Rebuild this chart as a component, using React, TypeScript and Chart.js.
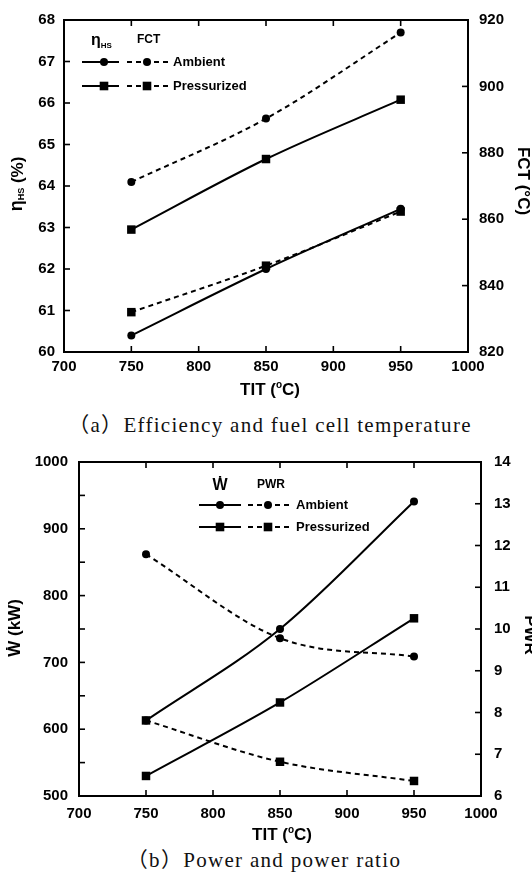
import React, { useEffect, useRef } from "react";
import { Chart, registerables } from "chart.js";
Chart.register(...registerables);

// ---------- data ----------
const TIT = [750, 850, 950];
const etaAmbient = [60.4, 62.0, 63.45];
const etaPressurized = [62.95, 64.65, 66.08];
const fctAmbient = [871.2, 890.3, 916.2];
const fctPressurized = [832.0, 846.0, 862.3];

const powerAmbient = [613, 750, 941];
const powerPressurized = [530, 640, 766];
const pwrAmbient = [11.79, 9.78, 9.34];
const pwrPressurized = [7.81, 6.82, 6.36];

const xTickValues = [700, 750, 800, 850, 900, 950, 1000];
const etaTickValues = [60, 61, 62, 63, 64, 65, 66, 67, 68];
const fctTickValues = [820, 840, 860, 880, 900, 920];
const powerTickValues = [500, 550, 600, 650, 700, 750, 800, 850, 900, 950, 1000];
const powerLabelValues = [500, 600, 700, 800, 900, 1000];
const pwrTickValues = [6, 7, 8, 9, 10, 11, 12, 13, 14];

const legendLabels = ["Ambient", "Pressurized"];

const FONT = '"Liberation Sans", Arial, Helvetica, "DejaVu Sans", sans-serif';

type Part = { t: string; size: number; dy?: number };

function drawRich(ctx: CanvasRenderingContext2D, parts: Part[], cx: number, cy: number, rot: number, align: "center" | "left" = "center") {
  ctx.save();
  ctx.translate(cx, cy);
  ctx.rotate(rot);
  let total = 0;
  const widths = parts.map((p) => {
    ctx.font = `bold ${p.size}px ${FONT}`;
    const w = ctx.measureText(p.t).width;
    total += w;
    return w;
  });
  let x = align === "center" ? -total / 2 : 0;
  ctx.textBaseline = "middle";
  ctx.textAlign = "left";
  ctx.fillStyle = "#000";
  parts.forEach((p, i) => {
    ctx.font = `bold ${p.size}px ${FONT}`;
    ctx.fillText(p.t, x, p.dy || 0);
    x += widths[i];
  });
  ctx.restore();
}

function marker(ctx: CanvasRenderingContext2D, x: number, y: number, shape: string) {
  ctx.fillStyle = "#000";
  ctx.beginPath();
  if (shape === "circle") {
    ctx.arc(x, y, 4, 0, Math.PI * 2);
  } else {
    ctx.rect(x - 4.3, y - 4.3, 8.6, 8.6);
  }
  ctx.fill();
}

function sample(ctx: CanvasRenderingContext2D, x1: number, x2: number, y: number, mx: number, dashed: boolean, shape: string) {
  ctx.save();
  ctx.strokeStyle = "#000";
  ctx.lineWidth = 2;
  ctx.setLineDash(dashed ? [5, 4] : []);
  ctx.beginPath();
  ctx.moveTo(x1, y);
  ctx.lineTo(x2, y);
  ctx.stroke();
  ctx.setLineDash([]);
  marker(ctx, mx, y, shape);
  ctx.restore();
}

function line(ctx: CanvasRenderingContext2D, x1: number, y1: number, x2: number, y2: number) {
  ctx.beginPath();
  ctx.moveTo(x1, y1);
  ctx.lineTo(x2, y2);
  ctx.stroke();
}

function frame(chart: any, leftTicks: number[], rightTicks: number[]) {
  const { ctx, chartArea: a, scales } = chart;
  const L = 6;
  ctx.save();
  ctx.strokeStyle = "#000";
  ctx.lineWidth = 2;
  ctx.strokeRect(a.left, a.top, a.right - a.left, a.bottom - a.top);
  ctx.lineWidth = 1.6;
  xTickValues.forEach((v) => {
    const px = scales.x.getPixelForValue(v);
    if (px <= a.left + 1 || px >= a.right - 1) return;
    line(ctx, px, a.bottom, px, a.bottom - L);
    line(ctx, px, a.top, px, a.top + L);
  });
  leftTicks.forEach((v) => {
    const py = scales.y.getPixelForValue(v);
    if (py <= a.top + 1 || py >= a.bottom - 1) return;
    line(ctx, a.left, py, a.left + L, py);
  });
  rightTicks.forEach((v) => {
    const py = scales.y1.getPixelForValue(v);
    if (py <= a.top + 1 || py >= a.bottom - 1) return;
    line(ctx, a.right, py, a.right - L, py);
  });
  ctx.restore();
}

function ds(label: string, xs: number[], ys: number[], axis: string, dashed: boolean, shape: string) {
  return {
    label,
    data: xs.map((x, i) => ({ x, y: ys[i] })),
    yAxisID: axis,
    borderColor: "#000",
    backgroundColor: "#000",
    borderWidth: 2,
    borderDash: dashed ? [5, 4] : [],
    pointStyle: shape,
    pointRadius: shape === "circle" ? 4 : 6,
    pointBackgroundColor: "#000",
    pointBorderColor: "#000",
    pointBorderWidth: 0,
    cubicInterpolationMode: "monotone",
    fill: false,
  };
}

function tickFont() {
  return { family: FONT, size: 15, weight: "bold" as const };
}

function linearAxis(min: number, max: number, step: number, position: string, width: number, padding: number, cb?: (v: number) => string) {
  return {
    type: "linear",
    position,
    min,
    max,
    grid: { display: false, drawTicks: false, drawOnChartArea: false },
    border: { display: false },
    ticks: {
      stepSize: step,
      padding,
      color: "#000",
      font: tickFont(),
      autoSkip: false,
      callback: cb ? (v: any) => cb(Number(v)) : (v: any) => String(v),
    },
    afterFit: (s: any) => {
      s.width = width;
    },
  };
}

function xAxis(height: number, padding: number) {
  return {
    type: "linear",
    position: "bottom",
    min: 700,
    max: 1000,
    grid: { display: false, drawTicks: false, drawOnChartArea: false },
    border: { display: false },
    ticks: {
      stepSize: 50,
      padding,
      color: "#000",
      font: tickFont(),
      autoSkip: false,
      maxRotation: 0,
      callback: (v: any) => String(v),
    },
    afterFit: (s: any) => {
      s.height = height;
    },
  };
}

function topConfig(): any {
  const deco = {
    id: "decoTop",
    afterDraw(chart: any) {
      const ctx = chart.ctx as CanvasRenderingContext2D;
      frame(chart, etaTickValues, fctTickValues);
      // axis titles
      drawRich(ctx, [{ t: "η", size: 18, dy: -1 }, { t: "HS", size: 9, dy: 4 }, { t: " (%)", size: 17 }], 18, 184, -Math.PI / 2);
      drawRich(ctx, [{ t: "FCT (°C)", size: 17 }], 523, 181, Math.PI / 2);
      drawRich(ctx, [{ t: "TIT (", size: 17 }, { t: "o", size: 10, dy: -5 }, { t: "C)", size: 17 }], 270, 390, 0);
      // legend
      drawRich(ctx, [{ t: "η", size: 16 }, { t: "HS", size: 8, dy: 5 }], 91, 41, 0, "left");
      drawRich(ctx, [{ t: "FCT", size: 12 }], 137, 40, 0, "left");
      const rows = [62, 86];
      const shapes = ["circle", "rect"];
      rows.forEach((y, i) => {
        sample(ctx, 82, 119, y, 104, false, shapes[i]);
        sample(ctx, 127, 170, y, 147, true, shapes[i]);
        drawRich(ctx, [{ t: legendLabels[i], size: 13 }], 173, y, 0, "left");
      });
    },
  };
  return {
    type: "line",
    data: {
      datasets: [
        ds("ηHS Ambient", TIT, etaAmbient, "y", false, "circle"),
        ds("ηHS Pressurized", TIT, etaPressurized, "y", false, "rect"),
        ds("FCT Ambient", TIT, fctAmbient, "y1", true, "circle"),
        ds("FCT Pressurized", TIT, fctPressurized, "y1", true, "rect"),
      ],
    },
    options: {
      responsive: false,
      animation: false,
      layout: { padding: { top: 15, left: 0, right: 0, bottom: 0 } },
      plugins: { legend: { display: false }, tooltip: { enabled: false } },
      scales: {
        x: xAxis(48, 6),
        y: linearAxis(60, 68, 1, "left", 64, 9),
        y1: linearAxis(820, 920, 20, "right", 64, 11),
      },
    },
    plugins: [deco],
  };
}

function bottomConfig(): any {
  const deco = {
    id: "decoBottom",
    afterDraw(chart: any) {
      const ctx = chart.ctx as CanvasRenderingContext2D;
      frame(chart, powerTickValues, pwrTickValues);
      drawRich(ctx, [{ t: "Ẇ (kW)", size: 17 }], 15, 188, -Math.PI / 2);
      drawRich(ctx, [{ t: "PWR", size: 17 }], 530, 195, Math.PI / 2);
      drawRich(ctx, [{ t: "TIT (", size: 17 }, { t: "o", size: 10, dy: -5 }, { t: "C)", size: 17 }], 282, 395, 0);
      drawRich(ctx, [{ t: "Ẇ", size: 16 }], 220, 46, 0);
      drawRich(ctx, [{ t: "PWR", size: 12 }], 257, 45, 0, "left");
      const rows = [65, 87];
      const shapes = ["circle", "rect"];
      rows.forEach((y, i) => {
        sample(ctx, 199, 241, y, 220, false, shapes[i]);
        sample(ctx, 248, 291, y, 268, true, shapes[i]);
        drawRich(ctx, [{ t: legendLabels[i], size: 13 }], 296, y, 0, "left");
      });
    },
  };
  return {
    type: "line",
    data: {
      datasets: [
        ds("W Ambient", TIT, powerAmbient, "y", false, "circle"),
        ds("W Pressurized", TIT, powerPressurized, "y", false, "rect"),
        ds("PWR Ambient", TIT, pwrAmbient, "y1", true, "circle"),
        ds("PWR Pressurized", TIT, pwrPressurized, "y1", true, "rect"),
      ],
    },
    options: {
      responsive: false,
      animation: false,
      layout: { padding: { top: 20, left: 0, right: 0, bottom: 0 } },
      plugins: { legend: { display: false }, tooltip: { enabled: false } },
      scales: {
        x: xAxis(49, 9),
        y: linearAxis(500, 1000, 50, "left", 79, 11, (v) => (powerLabelValues.includes(v) ? String(v) : "")),
        y1: linearAxis(6, 14, 1, "right", 51, 13),
      },
    },
    plugins: [deco],
  };
}

function ChartCanvas({ make, top, height }: { make: () => any; top: number; height: number }) {
  const ref = useRef<HTMLCanvasElement | null>(null);
  useEffect(() => {
    if (!ref.current) return;
    const chart = new Chart(ref.current, make());
    return () => chart.destroy();
  }, [make]);
  return (
    <canvas
      ref={ref}
      width={532}
      height={height}
      style={{ position: "absolute", left: 0, top, width: 532, height, display: "block" }}
    />
  );
}

const captionStyle: React.CSSProperties = {
  position: "absolute",
  width: 532,
  textAlign: "center",
  fontFamily: '"Liberation Serif", "Times New Roman", "Noto Sans CJK SC", serif',
  fontSize: 21,
  letterSpacing: 1.3,
  lineHeight: "24px",
  color: "#111",
  whiteSpace: "nowrap",
};

export default function App() {
  return (
    <div style={{ position: "absolute", left: 0, top: 0, width: 532, height: 880, background: "#fff", overflow: "hidden" }}>
      <div style={{ ...captionStyle, left: 4, top: 413 }}>（a）Efficiency and fuel cell temperature</div>
      <div style={{ ...captionStyle, left: -2, top: 848 }}>（b）Power and power ratio</div>
      <ChartCanvas make={topConfig} top={0} height={400} />
      <ChartCanvas make={bottomConfig} top={440} height={405} />
    </div>
  );
}
